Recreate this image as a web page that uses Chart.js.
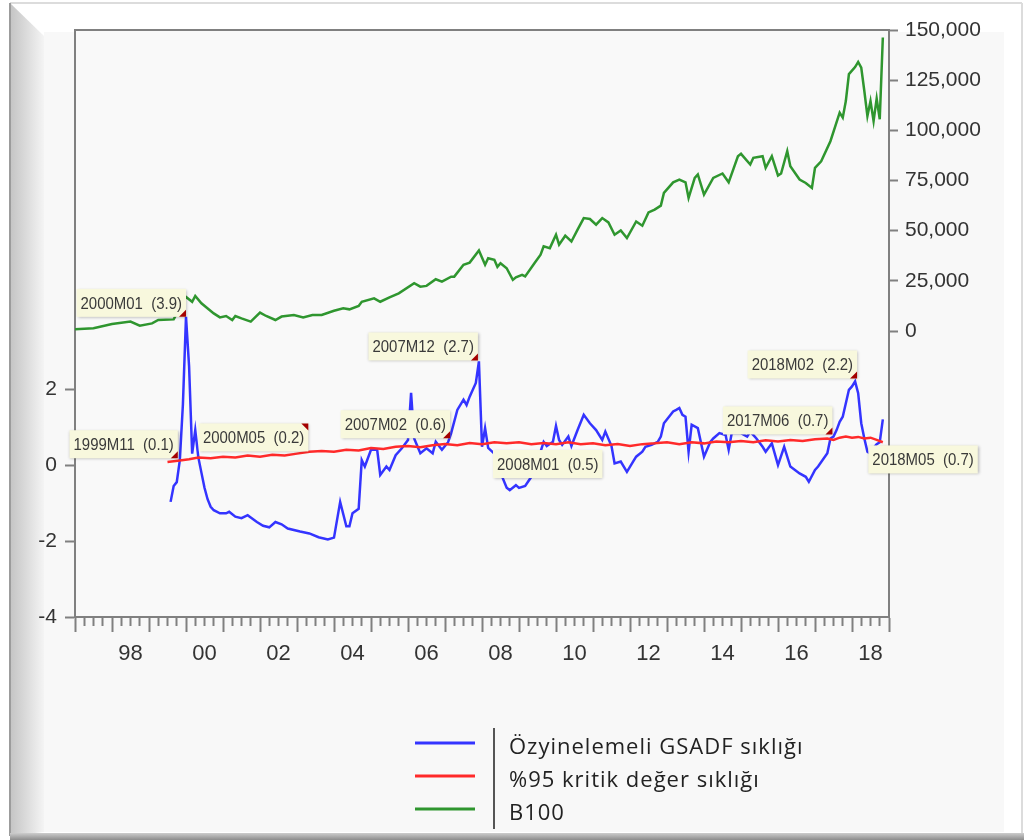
<!DOCTYPE html>
<html lang="tr">
<head>
    <meta charset="UTF-8">
    <title>GSADF ve B100</title>
    <script src="https://cdn.jsdelivr.net/npm/chart.js"></script>
    <style>
        html, body { margin: 0; padding: 0; background: #ffffff; }
        #wrap { width: 1028px; height: 840px; }
    </style>
</head>
<body>
<div id="wrap"><canvas id="gsadfChart" width="1028" height="840"></canvas></div>

<script>
    // Axis ticks
    const leftTicks = [-4, -2, 0, 2];
    const rightTicks = [0, 25000, 50000, 75000, 100000, 125000, 150000];

    // B100 (right axis)
    const b100Dates = ['1997M01','1997M07','1998M01','1998M07','1998M10','1999M02','1999M04','1999M09','2000M01','2000M03',
        '2000M04','2000M06','2000M10','2000M12','2001M02','2001M04','2001M05','2001M07','2001M10','2002M01',
        '2002M03','2002M06','2002M08','2002M12','2003M03','2003M06','2003M09','2004M01','2004M04','2004M06',
        '2004M09','2004M10','2005M02','2005M04','2005M07','2005M10','2006M03','2006M05','2006M07','2006M10',
        '2006M12','2007M03','2007M04','2007M07','2007M09','2007M12','2008M02','2008M03','2008M05','2008M06',
        '2008M07','2008M09','2008M11','2008M12','2009M02','2009M03','2009M06','2009M08','2009M09','2009M11',
        '2010M01','2010M02','2010M04','2010M06','2010M08','2010M10','2010M12','2011M02','2011M04','2011M06',
        '2011M08','2011M10','2011M12','2012M03','2012M05','2012M07','2012M09','2012M11','2012M12','2013M03',
        '2013M05','2013M07','2013M08','2013M10','2013M11','2014M01','2014M04','2014M07','2014M09','2014M12',
        '2015M01','2015M04','2015M05','2015M08','2015M09','2015M11','2016M01','2016M02','2016M04','2016M05',
        '2016M08','2016M10','2016M12','2017M01','2017M03','2017M06','2017M09','2017M10','2017M11','2017M12',
        '2018M02','2018M03','2018M04','2018M05','2018M06','2018M07','2018M08','2018M09','2018M10','2018M11'];
    const b100Values = [900,1350,3500,4700,2700,3800,5500,5800,17000,14600,
        17500,13800,8800,6800,7500,5500,7500,6300,4700,9200,
        7500,5500,7200,8000,6800,8000,8000,10100,11300,10800,
        12500,14600,16300,14600,16800,18800,23800,22100,22500,25800,
        24600,27100,27100,33000,34100,40100,33000,36300,35500,32000,
        33800,31300,25500,26800,28000,27200,33800,38000,42200,41300,
        48000,43000,47500,44600,50500,56300,55800,53000,56300,54100,
        48000,50100,46300,54600,52500,59100,60500,62500,68800,74100,
        75500,74100,66300,76300,78000,68000,76300,78500,74100,87100,
        88300,83000,86300,87100,81300,87100,77500,78500,89600,82100,
        75500,73800,71300,81300,84600,94600,108800,106300,114600,128000,
        131500,134100,131300,119600,107100,114600,104600,115800,105500,146300];

    // Ozyinelemeli GSADF (left axis)
    const gsadfDates = ['1999M08','1999M09','1999M10','1999M11','1999M12','2000M01','2000M02','2000M03','2000M04','2000M05',
        '2000M06','2000M07','2000M08','2000M09','2000M10','2000M12','2001M02','2001M03','2001M05','2001M07',
        '2001M09','2001M10','2001M12','2002M02','2002M04','2002M06','2002M08','2002M10','2003M02','2003M05',
        '2003M08','2003M11','2004M01','2004M03','2004M05','2004M06','2004M07','2004M09','2004M10','2004M11',
        '2005M01','2005M03','2005M04','2005M06','2005M07','2005M09','2005M11','2006M01','2006M02','2006M03',
        '2006M05','2006M07','2006M09','2006M10','2006M12','2007M02','2007M03','2007M05','2007M07','2007M08',
        '2007M09','2007M11','2007M12','2008M01','2008M02','2008M03','2008M05','2008M07','2008M09','2008M10',
        '2008M12','2009M01','2009M03','2009M05','2009M07','2009M09','2009M10','2009M12','2010M01','2010M02',
        '2010M03','2010M05','2010M06','2010M08','2010M10','2010M12','2011M02','2011M04','2011M05','2011M07',
        '2011M08','2011M10','2011M12','2012M02','2012M03','2012M05','2012M06','2012M08','2012M10','2012M11',
        '2012M12','2013M03','2013M04','2013M05','2013M06','2013M07','2013M08','2013M09','2013M11','2014M01',
        '2014M03','2014M04','2014M06','2014M08','2014M09','2014M10','2015M01','2015M03','2015M04','2015M06',
        '2015M08','2015M09','2015M11','2016M01','2016M03','2016M05','2016M08','2016M10','2016M11','2017M01',
        '2017M02','2017M05','2017M06','2017M07','2017M08','2017M09','2017M10','2017M12','2018M01','2018M02',
        '2018M03','2018M04','2018M05','2018M06','2018M07','2018M08','2018M09','2018M10','2018M11'];
    const gsadfValues = [-0.97,-0.55,-0.45,0.13,1.6,3.9,2.6,0.3,0.92,0.2,
        -0.2,-0.6,-0.9,-1.1,-1.19,-1.27,-1.27,-1.23,-1.36,-1.4,
        -1.32,-1.38,-1.5,-1.6,-1.64,-1.5,-1.56,-1.67,-1.75,-1.8,
        -1.9,-1.96,-1.91,-0.97,-1.61,-1.61,-1.27,-1.15,0.13,-0.04,
        0.4,0.4,-0.26,-0.04,-0.13,0.26,0.44,0.66,1.9,0.7,
        0.31,0.44,0.31,0.61,0.4,0.6,0.84,1.45,1.72,1.58,
        1.8,2.16,2.73,0.48,0.97,0.45,0.3,-0.2,-0.6,-0.66,
        -0.53,-0.6,-0.55,-0.31,0.1,0.61,0.5,0.61,1.03,0.66,
        0.53,0.75,0.5,0.92,1.32,1.1,0.92,0.66,0.88,0.5,
        0.04,0.09,-0.18,0.09,0.22,0.35,0.48,0.53,0.61,0.75,
        1.1,1.41,1.45,1.5,1.32,1.27,0.35,1.06,0.97,0.22,
        0.6,0.7,0.84,0.79,0.4,0.84,0.84,0.75,0.88,0.7,
        0.48,0.35,0.57,0.0,0.48,-0.04,-0.22,-0.31,-0.44,-0.13,
        -0.04,0.31,0.7,0.75,0.92,1.14,1.27,1.98,2.07,2.2,
        1.89,1.1,0.7,0.35,0.3,0.45,0.55,0.6,1.2];

    // %95 kritik deger (left axis)
    const criticalDates = ['1999M07','1999M11','2000M02','2000M05','2000M09','2001M01','2001M05','2001M09','2002M01','2002M05',
        '2002M09','2003M01','2003M05','2003M09','2004M01','2004M05','2004M09','2005M01','2005M05','2005M09',
        '2006M01','2006M05','2006M09','2007M01','2007M05','2007M09','2008M01','2008M05','2008M09','2009M01',
        '2009M05','2009M09','2010M01','2010M05','2010M09','2011M01','2011M05','2011M09','2012M01','2012M05',
        '2012M09','2013M01','2013M05','2013M09','2014M01','2014M05','2014M09','2015M01','2015M05','2015M09',
        '2016M01','2016M05','2016M09','2017M01','2017M05','2017M07','2017M09','2017M11','2018M01','2018M03',
        '2018M05','2018M07','2018M09','2018M11'];
    const criticalValues = [0.08,0.12,0.15,0.2,0.18,0.22,0.2,0.25,0.22,0.27,
        0.25,0.3,0.35,0.37,0.35,0.4,0.38,0.45,0.42,0.48,
        0.5,0.47,0.52,0.55,0.52,0.58,0.55,0.6,0.57,0.6,
        0.55,0.58,0.55,0.6,0.55,0.57,0.52,0.55,0.5,0.55,
        0.57,0.6,0.55,0.6,0.57,0.62,0.6,0.63,0.6,0.65,
        0.62,0.66,0.63,0.68,0.7,0.66,0.72,0.75,0.72,0.74,
        0.7,0.72,0.66,0.6];

    // Labelled observations
    const noteDates = ['1999M11','2000M01','2000M05','2007M02','2007M12','2008M01','2017M06','2018M02','2018M05'];
    const noteValues = [0.1, 3.9, 0.2, 0.6, 2.7, 0.5, 0.7, 2.2, 0.7];

    // where each label box sits relative to its point
    const notePlace = [
        {corner: 'br', dx: -2, dy: -3}, {corner: 'br', dx: 0, dy: 0}, {corner: 'tr', dx: 110, dy: -34},
        {corner: 'br', dx: 2, dy: -4}, {corner: 'br', dx: -1, dy: -2}, {corner: 'tl', dx: 11, dy: 4},
        {corner: 'br', dx: 2, dy: -4}, {corner: 'br', dx: 2, dy: -3}, {corner: 'tl', dx: 4, dy: 7}
    ];

    // "1999M11" -> months since 1997M01
    function monthIndex(d) {
        const y = parseInt(d.slice(0, 4), 10);
        const m = parseInt(d.slice(5), 10);
        return (y - 1997) * 12 + (m - 1);
    }

    function toPoints(dates, values) {
        return dates.map((d, i) => ({ x: monthIndex(d), y: values[i] }));
    }

    const AXIS_GREY = '#808080';
    const SANS = '"Liberation Sans", Arial, sans-serif';

    // frame around the picture, the panel and the plot box
    const framePlugin = {
        id: 'frame',
        beforeDraw(chart) {
            const { ctx, width, height } = chart;
            ctx.save();
            ctx.fillStyle = '#ffffff';
            ctx.fillRect(0, 0, width, height);
            ctx.fillStyle = '#f8f8f8';
            ctx.fillRect(44, 32, 960, 800);

            const g = ctx.createLinearGradient(10, 0, 46, 0);
            g.addColorStop(0, '#c4c4c4');
            g.addColorStop(1, '#f7f7f7');
            ctx.fillStyle = g;
            ctx.beginPath();
            ctx.moveTo(10, 3);
            ctx.lineTo(44, 36);
            ctx.lineTo(44, 832);
            ctx.lineTo(10, 836);
            ctx.closePath();
            ctx.fill();

            ctx.lineWidth = 2;
            ctx.strokeStyle = '#dcdcdc';
            ctx.beginPath();
            ctx.moveTo(10, 3); ctx.lineTo(1022, 3);
            ctx.moveTo(1022, 3); ctx.lineTo(1022, 834);
            ctx.stroke();
            ctx.strokeStyle = '#9c9c9c';
            ctx.beginPath();
            ctx.moveTo(10, 3); ctx.lineTo(10, 836);
            ctx.stroke();

            const gb = ctx.createLinearGradient(0, 832, 0, 840);
            gb.addColorStop(0, '#d6d6d6');
            gb.addColorStop(1, '#8c8c8c');
            ctx.fillStyle = gb;
            ctx.fillRect(10, 833, 1014, 7);

            const a = chart.chartArea;
            ctx.fillStyle = '#f9f9f9';
            ctx.fillRect(a.left, a.top, a.right - a.left, a.bottom - a.top);
            ctx.restore();
        },
        beforeDatasetsDraw(chart) {
            const { ctx, chartArea: a } = chart;
            ctx.save();
            ctx.strokeStyle = AXIS_GREY;
            ctx.lineWidth = 2;
            ctx.strokeRect(a.left, a.top, a.right - a.left, a.bottom - a.top);
            ctx.restore();
        }
    };

    // yellow label boxes with the little red pointer
    const notesPlugin = {
        id: 'notes',
        afterDatasetsDraw(chart) {
            const { ctx } = chart;
            const xs = chart.scales.x, ys = chart.scales.y;
            const squeeze = 0.88;
            ctx.save();
            ctx.font = '17px ' + SANS;
            noteDates.forEach((d, i) => {
                const p = notePlace[i];
                const px = xs.getPixelForValue(monthIndex(d)) + p.dx;
                const py = ys.getPixelForValue(noteValues[i]) + p.dy;
                const text = d + '  (' + noteValues[i].toFixed(1) + ')';
                const w = ctx.measureText(text).width * squeeze + 8, h = 28;
                const left = p.corner[1] === 'r' ? px - w : px;
                const top = p.corner[0] === 'b' ? py - h : py;

                ctx.save();
                ctx.shadowColor = 'rgba(0,0,0,0.28)';
                ctx.shadowBlur = 3;
                ctx.shadowOffsetX = 1;
                ctx.shadowOffsetY = 1;
                ctx.fillStyle = '#f8f8dd';
                ctx.fillRect(left, top, w, h);
                ctx.restore();

                ctx.save();
                ctx.translate(left + 4, top + h / 2 + 1);
                ctx.scale(squeeze, 1);
                ctx.fillStyle = '#3a3a3a';
                ctx.textBaseline = 'middle';
                ctx.textAlign = 'left';
                ctx.fillText(text, 0, 0);
                ctx.restore();

                if (p.corner === 'br' || p.corner === 'tr') {
                    const s = p.corner === 'br' ? -7 : 7;
                    ctx.fillStyle = '#a30000';
                    ctx.beginPath();
                    ctx.moveTo(px, py);
                    ctx.lineTo(px - 7, py);
                    ctx.lineTo(px, py + s);
                    ctx.closePath();
                    ctx.fill();
                }
            });
            ctx.restore();
        }
    };

    // legend block under the plot
    const legendPlugin = {
        id: 'legendBlock',
        afterDraw(chart) {
            const { ctx } = chart;
            ctx.save();
            ctx.strokeStyle = '#555';
            ctx.lineWidth = 2;
            ctx.beginPath();
            ctx.moveTo(494, 728);
            ctx.lineTo(494, 829);
            ctx.stroke();
            ctx.font = '22px "Open Sans", "Noto Sans", sans-serif';
            ctx.letterSpacing = '1px';
            ctx.textBaseline = 'middle';
            chart.data.datasets.forEach((ds, i) => {
                const y = 743 + i * 33;
                ctx.strokeStyle = ds.borderColor;
                ctx.lineWidth = 3;
                ctx.beginPath();
                ctx.moveTo(415, y);
                ctx.lineTo(475, y);
                ctx.stroke();
                ctx.fillStyle = '#222';
                ctx.fillText(ds.label, 509, y + 5);
            });
            ctx.restore();
        }
    };

    const ctx = document.getElementById('gsadfChart').getContext('2d');
    const gsadfChart = new Chart(ctx, {
        type: 'line',
        data: {
            datasets: [{
                label: 'Özyinelemeli GSADF sıklığı',
                data: toPoints(gsadfDates, gsadfValues),
                borderColor: '#3434ff',
                borderWidth: 2.5,
                pointRadius: 0,
                tension: 0,
                yAxisID: 'y',
                order: 1
            }, {
                label: '%95 kritik değer sıklığı',
                data: toPoints(criticalDates, criticalValues),
                borderColor: '#ff2a2a',
                borderWidth: 2.5,
                pointRadius: 0,
                tension: 0,
                yAxisID: 'y',
                order: 0
            }, {
                label: 'B100',
                data: toPoints(b100Dates, b100Values),
                borderColor: '#2f962f',
                borderWidth: 2.5,
                pointRadius: 0,
                tension: 0,
                yAxisID: 'y2',
                order: 2
            }]
        },
        options: {
            responsive: false,
            animation: false,
            devicePixelRatio: 1,
            layout: { padding: { top: 30, left: 0, right: 0, bottom: 0 } },
            plugins: { legend: { display: false }, tooltip: { enabled: false } },
            scales: {
                x: {
                    type: 'linear',
                    position: 'bottom',
                    min: 0,
                    max: 264,
                    afterBuildTicks: s => {
                        s.ticks = [];
                        for (let m = 0; m <= 264; m += 3) s.ticks.push({ value: m });
                    },
                    afterFit: s => { s.height = 223; },
                    ticks: {
                        autoSkip: false,
                        maxRotation: 0,
                        padding: 9,
                        color: '#333',
                        font: { family: SANS, size: 22 },
                        callback: v => ((v - 18) % 24 === 0
                            ? String((1997 + (v - 6) / 12) % 100).padStart(2, '0') : '')
                    },
                    grid: {
                        drawOnChartArea: false,
                        tickLength: 15,
                        tickWidth: 2,
                        tickColor: AXIS_GREY,
                        tickBorderDash: c => (c.tick && c.tick.value % 12 === 0) ? [] : [8, 40]
                    },
                    border: { color: AXIS_GREY, width: 2 }
                },
                y: {
                    type: 'linear',
                    position: 'left',
                    min: -4,
                    max: 11.45,
                    afterBuildTicks: s => { s.ticks = leftTicks.map(v => ({ value: v })); },
                    afterFit: s => { s.width = 75; },
                    ticks: {
                        padding: 8,
                        color: '#333',
                        font: { family: SANS, size: 21 },
                        callback: v => String(v)
                    },
                    grid: { drawOnChartArea: false, tickLength: 10, tickWidth: 2, tickColor: AXIS_GREY },
                    border: { color: AXIS_GREY, width: 2 }
                },
                y2: {
                    type: 'linear',
                    position: 'right',
                    min: -142500,
                    max: 150000,
                    afterBuildTicks: s => { s.ticks = rightTicks.map(v => ({ value: v })); },
                    afterFit: s => { s.width = 139; },
                    ticks: {
                        padding: 7,
                        color: '#333',
                        font: { family: SANS, size: 21 },
                        callback: v => v.toLocaleString('en-US')
                    },
                    grid: { drawOnChartArea: false, tickLength: 9, tickWidth: 2, tickColor: AXIS_GREY },
                    border: { color: AXIS_GREY, width: 2 }
                }
            }
        },
        plugins: [framePlugin, notesPlugin, legendPlugin]
    });
</script>
</body>
</html>
